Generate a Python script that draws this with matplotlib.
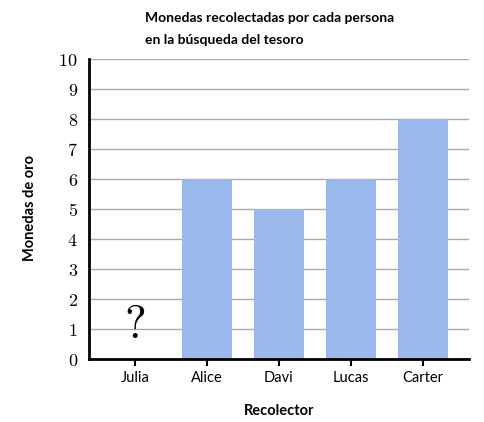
import matplotlib
matplotlib.use('Agg')
import matplotlib.pyplot as plt

plt.rcParams['mathtext.fontset'] = 'cm'

collectors = ['Julia', 'Alice', 'Davi', 'Lucas', 'Carter']
coins = [0, 6, 5, 6, 8]
y_ticks = list(range(0, 11))

fig = plt.figure(figsize=(4.85, 4.22), dpi=100)
ax = fig.add_axes([0.1835, 0.1493, 0.7835, 0.7109])

x = list(range(len(collectors)))
# Julia's value is unknown: no bar, just a question mark
ax.bar(x[1:], coins[1:], width=0.69, color='#99b8ec', zorder=2)
ax.text(0, 1.13, '$?$', ha='center', va='center', fontsize=33, zorder=3)

ax.set_xlim(-0.64, 4.64)
ax.set_ylim(0, 10)
ax.set_yticks(y_ticks)
ax.set_yticklabels(['$%d$' % v for v in y_ticks], fontsize=13)
ax.set_xticks(x)
ax.set_xticklabels(collectors, family='Lato', fontsize=10.5)
ax.tick_params(axis='y', length=0, pad=8)
ax.tick_params(axis='x', length=5, width=1.5, direction='out', pad=4)

ax.grid(axis='y', color='#aaaaaa', linewidth=1, zorder=1)
ax.set_axisbelow(True)
for s in ['top', 'right']:
    ax.spines[s].set_visible(False)
ax.spines['left'].set_linewidth(2)
ax.spines['bottom'].set_linewidth(2)

fig.text(279 / 485, 1 - 411 / 422, 'Recolector', family='Lato', fontweight='bold',
         fontsize=10.5, ha='center', va='center')
fig.text(30 / 485, 1 - 208 / 422, 'Monedas de oro', family='Lato', fontweight='bold',
         fontsize=10.5, ha='center', va='center', rotation=90)

fig.text(145 / 485, 1 - 18 / 422, 'Monedas recolectadas por cada persona', family='Lato',
         fontweight='bold', fontsize=10, ha='left', va='center')
fig.text(145 / 485, 1 - 40 / 422, 'en la búsqueda del tesoro', family='Lato',
         fontweight='bold', fontsize=10, ha='left', va='center')

fig.savefig('out.png', dpi=100)
